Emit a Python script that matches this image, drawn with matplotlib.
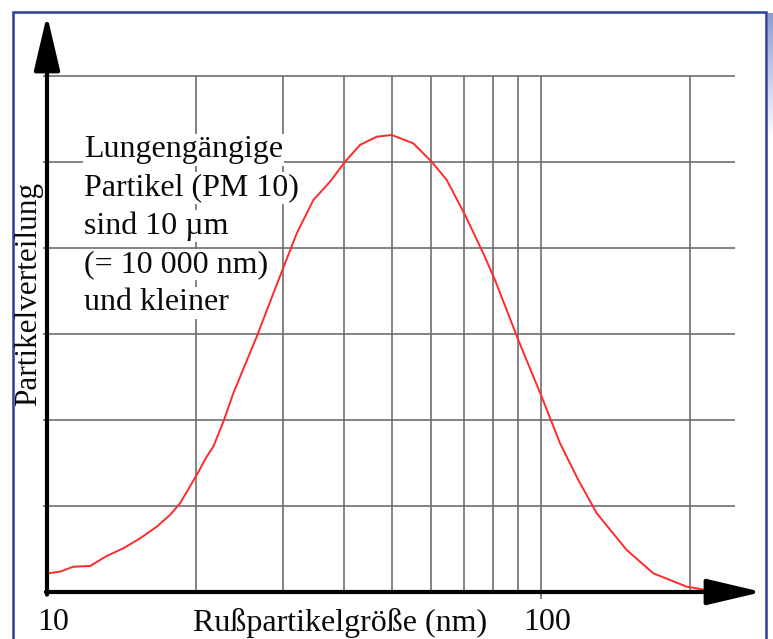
import numpy as np
import matplotlib
matplotlib.use('Agg')
import matplotlib.pyplot as plt
from matplotlib.patches import Rectangle
from matplotlib.colors import LinearSegmentedColormap

# Werte (x in nm, y in Gitterteilungen)
size_nm = [10.06, 10.62, 11.30, 12.22, 13.21, 14.27, 15.43, 16.68, 17.74, 18.59,
           20.09, 21.05, 21.71, 22.75, 23.83, 26.58, 28.72, 30.33, 32.03, 34.61,
           37.41, 40.11, 43.01, 46.49, 49.86, 55.14, 60.08, 64.44, 70.19, 76.42,
           80.70, 89.97, 100.3, 109.3, 119.0, 129.7, 149.1, 168.8, 197.2, 219.9]
dist = [0.217, 0.236, 0.294, 0.302, 0.419, 0.508, 0.624, 0.760, 0.895, 1.031,
        1.360, 1.574, 1.690, 1.980, 2.310, 2.969, 3.473, 3.822, 4.171, 4.558,
        4.771, 5.003, 5.198, 5.294, 5.314, 5.217, 5.003, 4.791, 4.384, 3.938,
        3.628, 2.930, 2.271, 1.729, 1.302, 0.915, 0.488, 0.217, 0.062, 0.015]

grid_x = [20, 30, 40, 50, 60, 70, 80, 90, 100, 200]
grid_y = [1, 2, 3, 4, 5, 6]
x_ticklabels = {10: '10', 100: '100'}
note_lines = ['Lungengängige', 'Partikel (PM 10)', 'sind 10 µm',
              '(= 10 000 nm)', 'und kleiner']

W, H = 773, 639
fig = plt.figure(figsize=(W / 100, H / 100), dpi=100)
fig.patch.set_facecolor('white')
serif = ['Liberation Serif', 'DejaVu Serif']
fs = 23

# blauer Rahmen + Schatten rechts
fig.add_artist(Rectangle((12.5 / W, -0.1), (766 - 12.5) / W, 1.1 - 12.5 / H,
                         transform=fig.transFigure, fill=False,
                         edgecolor='#2b3f9e', lw=1.8))
sh = fig.add_axes([768 / W, 0, 5 / W, (H - 13) / H])
grad = np.linspace(0, 1, 200)
grad = np.clip(grad * 5, 0, 1)[:, None]
cmap = LinearSegmentedColormap.from_list('sh', ['#8c9dd0', '#ffffff'])
sh.imshow(grad[::-1], aspect='auto', cmap=cmap, origin='lower')
sh.axis('off')

# Achsen: x=10 bei px 47, Achse bei px 592, 86 px pro Teilung
x_left, x_tip, y_axis, y_tip = 47, 762, 592, 15
ax = fig.add_axes([x_left / W, (H - y_axis) / H, (x_tip - x_left) / W,
                   (y_axis - y_tip) / H])
ax.set_xscale('log')
xmax = 10 * 10 ** ((x_tip - x_left) / 494)
ymax = (y_axis - y_tip) / 86
ax.set_xlim(10, xmax)
ax.set_ylim(0, ymax)
ax.axis('off')
ax.patch.set_alpha(0)

gx_right = 10 * 10 ** ((735 - x_left) / 494)
gcol = '#6e6e6e'
ax.hlines(grid_y, 9.8, gx_right, colors=gcol, lw=1.2, clip_on=False, zorder=1)
ax.vlines(grid_x, 0, max(grid_y), colors=gcol, lw=1.2, zorder=1)
ax.vlines([100], -0.08, 0, colors=gcol, lw=1.2, clip_on=False, zorder=1)

ax.plot(size_nm, dist, color='#ff2a2a', lw=1.4, zorder=3)

# Pfeile
head = dict(arrowstyle='-|>,head_length=1.7,head_width=0.4', color='black',
            lw=3, mutation_scale=20, shrinkA=0, shrinkB=0)
ax.annotate('', xy=(10, ymax), xytext=(10, -0.03), arrowprops=head,
            annotation_clip=False, zorder=5)
ax.annotate('', xy=(xmax, 0), xytext=(9.95, 0), arrowprops=head,
            annotation_clip=False, zorder=5)

# Hinweistext mit weissem Hintergrund je Zeile
x_note = 10 * 10 ** ((84 - x_left) / 494)
for i, line in enumerate(note_lines):
    yv = (y_axis - 150 - 38.2 * i) / 86
    ax.text(x_note, yv, line, fontsize=fs, family=serif, va='center',
            ha='left', color='#0a0a0a', zorder=4,
            bbox=dict(facecolor='white', edgecolor='none', pad=1.0))

# Beschriftungen
for xv, lab in x_ticklabels.items():
    fig.text((x_left + 494 * np.log10(xv / 10) + 6) / W, (H - 623) / H, lab,
             fontsize=fs, family=serif, ha='center', va='center',
             color='#0a0a0a')
fig.text(340 / W, (H - 623) / H, 'Rußpartikelgröße (nm)', fontsize=fs,
         family=serif, ha='center', va='center', color='#0a0a0a')
fig.text(29 / W, (H - 294) / H, 'Partikelverteilung', fontsize=22.5,
         family=serif, ha='center', va='center', rotation=90, color='#0a0a0a')

fig.savefig('out.png', dpi=100)
